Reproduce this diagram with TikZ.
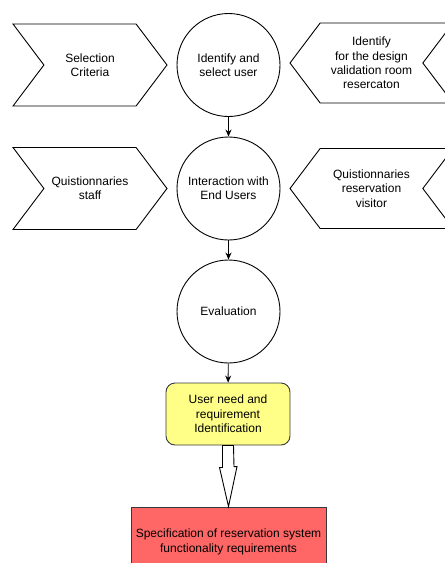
\documentclass[tikz,border=0pt]{standalone}
\usepackage{fontspec}
\setmainfont{Liberation Sans}
\usetikzlibrary{shapes.symbols,arrows.meta}
\definecolor{notefill}{HTML}{FFFF88}
\definecolor{specfill}{HTML}{FF6666}
\definecolor{edgegray}{HTML}{36393D}
\begin{document}
\begin{tikzpicture}[x=1pt,y=-1pt,
    every node/.style={font=\fontsize{12}{14.4}\selectfont,align=center,inner sep=0pt,line width=0.9pt},
    stage/.style={circle,draw,minimum size=103pt},
    input/.style={signal,draw,signal from=west,signal to=east,signal pointer angle=106,minimum width=154pt,minimum height=82pt},
    source/.style={signal,draw,signal from=east,signal to=west,signal pointer angle=106,minimum width=163pt,minimum height=80pt},
    flow/.style={-{Stealth[length=7pt,width=6pt]},line width=0.9pt}]
    \useasboundingbox(0,0)rectangle(445,563);
    \clip(0,0)rectangle(445,563);
    \node[stage](pick)at(228.5,65){Identify and\\select user};
    \node[stage](talk)at(228.5,188.5){Interaction with\\End Users};
    \node[stage](eval)at(228.5,311.5){Evaluation};
    \node[input](crit)at(90,65){Selection\\Criteria};
    \node[input](staff)at(90,188.5){Quistionnaries\\staff};
    \node[source](room)at(371.5,63){Identify\\for the design\\validation room\\resercaton};
    \node[source](visit)at(371.5,188.5){Quistionnaries\\reservation\\visitor};
    \node[draw=edgegray,fill=notefill,rounded corners=9pt,minimum width=124pt,minimum height=62pt](need)at(228,414){User need and\\requirement\\Identification};
    \node[draw=edgegray,fill=specfill,minimum width=195pt,minimum height=70pt](req)at(228.5,542){Specification of reservation system\\functionality requirements};
    \draw[flow](pick)--(talk);
    \draw[flow](talk)--(eval);
    \draw[flow](eval)--(need);
    \draw[line width=0.9pt,fill=white]([xshift=-5.5pt]need.south)--++(0,22)--++(-3,0)--(req.north)--++(8.5,-40)--++(-3,0)--([xshift=5.5pt]need.south)--cycle;
\end{tikzpicture}
\end{document}
